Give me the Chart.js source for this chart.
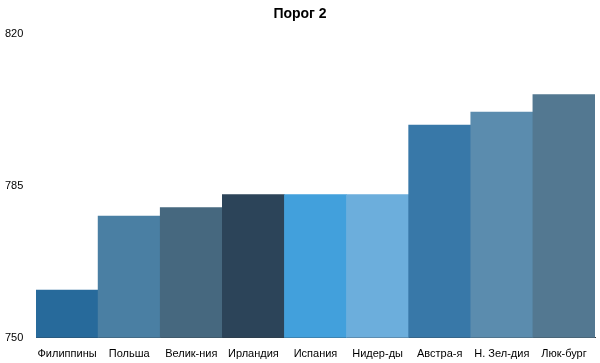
<!DOCTYPE html>
<html>
<head>
<meta charset="utf-8">
<script src="https://cdn.jsdelivr.net/npm/chart.js@4/dist/chart.umd.min.js"></script>
<style>
  html, body { margin: 0; padding: 0; background: #fff; }
  #wrap { width: 600px; height: 363px; }
</style>
</head>
<body>
<div id="wrap"><canvas id="chart"></canvas></div>
<script>
var categories = ["Филиппины", "Польша", "Велик-ния", "Ирландия", "Испания", "Нидер-ды", "Австра-я", "Н. Зел-дия", "Люк-бург"]
var values = [761, 778, 780, 783, 783, 783, 799, 802, 806]
var barColors = ["#276a9b", "#4a7fa3", "#46687f", "#2c4459", "#42a0dc", "#6caedc", "#3878a8", "#5b8cae", "#537891"]
var yTicks = [750, 785, 820]

Chart.defaults.font.family = "'Liberation Sans', Arial, sans-serif"
Chart.defaults.color = "#000"

var chart = new Chart(document.getElementById("chart"), {
  type: "bar",
  data: {
    labels: categories,
    datasets: [{
      data: values,
      backgroundColor: barColors,
      barPercentage: 1,
      categoryPercentage: 1
    }]
  },
  options: {
    responsive: true,
    maintainAspectRatio: false,
    animation: false,
    layout: { padding: { left: 5, right: 5, top: 0, bottom: 0 } },
    plugins: {
      legend: { display: false },
      tooltip: { enabled: false },
      title: {
        display: true,
        text: "Порог 2",
        font: { size: 14, weight: "bold" },
        color: "#000",
        padding: { top: 6, bottom: 11 }
      }
    },
    scales: {
      x: {
        grid: { display: false },
        border: { display: true, color: "#333", width: 1 },
        ticks: { font: { size: 11 }, color: "#000", padding: 2, maxRotation: 0, autoSkip: false }
      },
      y: {
        min: 750,
        max: 820,
        afterBuildTicks: function(axis) {
          axis.ticks = yTicks.map(function(v) { return { value: v } })
        },
        afterFit: function(axis) { axis.width = 31 },
        grid: { display: false },
        border: { display: false },
        ticks: { font: { size: 11 }, color: "#000", crossAlign: "far", padding: 4 }
      }
    }
  }
})
</script>
</body>
</html>
